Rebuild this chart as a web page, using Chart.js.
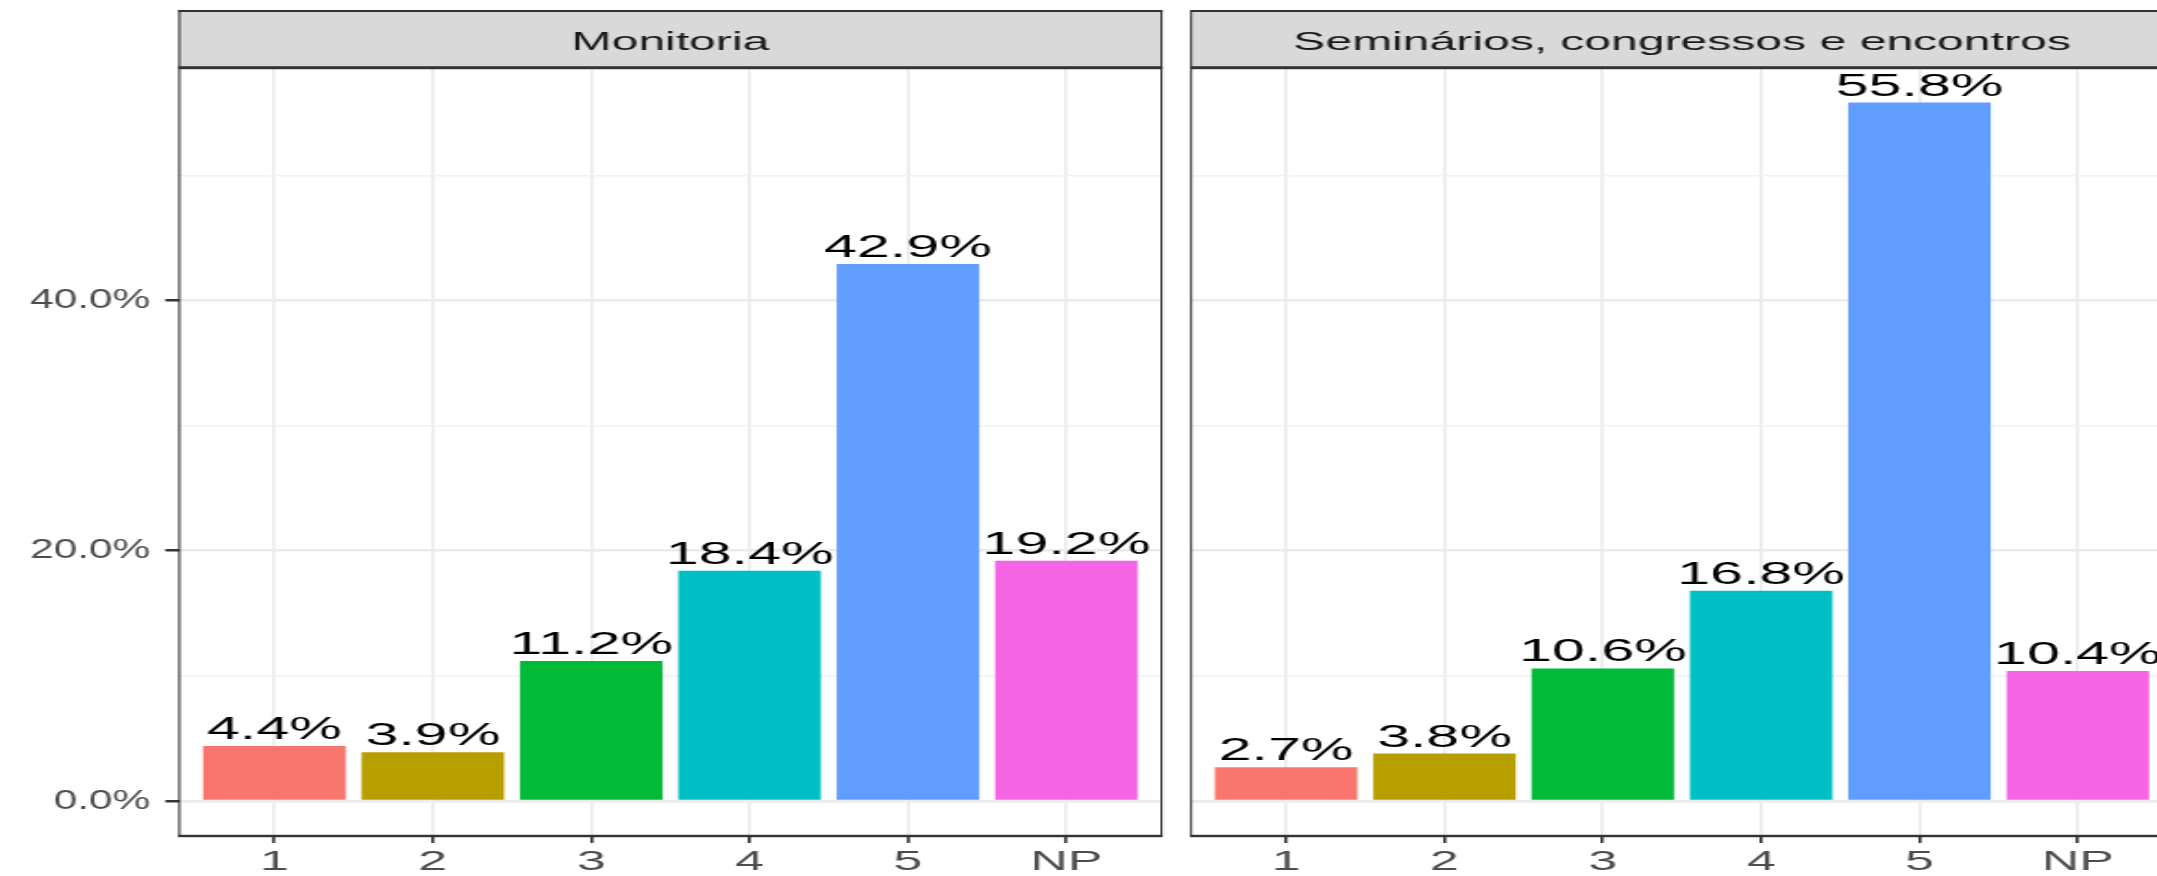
<!DOCTYPE html>
<html>
<head>
<meta charset="utf-8">
<script src="https://cdn.jsdelivr.net/npm/chart.js@4"></script>
<style>
  html, body { margin: 0; padding: 0; background: #fff; overflow: hidden; width: 2157px; height: 876px; }
  canvas { position: absolute; top: 0; }
</style>
</head>
<body>
<canvas id="chartMonitoria" width="636" height="876"></canvas>
<canvas id="chartSeminarios" width="543" height="876"></canvas>
<script>
// data
const categories = ['1', '2', '3', '4', '5', 'NP'];
const monitoriaValues = [4.4, 3.9, 11.2, 18.4, 42.9, 19.2];
const seminariosValues = [2.7, 3.8, 10.6, 16.8, 55.8, 10.4];
const barColors = ['#F8766D', '#B79F00', '#00BA38', '#00BFC4', '#619CFF', '#F564E3'];
const yGridTicks = [0, 10, 20, 30, 40, 50];
const yLabelTicks = [0, 20, 40];
const panelTitles = ['Monitoria', 'Seminários, congressos e encontros'];

// the picture is stretched sideways: canvases are drawn narrow and widened with css
const SX = 1.85;
const Y_LABEL_SQUEEZE = 0.82;   // y tick labels are less stretched than the rest
const H = 876;
const STRIP_TOP = 11;
const PANEL_TOP = 67.7;
const PANEL_BOTTOM = 836;
const FONT = '"Liberation Sans", Arial, sans-serif';

// shared y range, ggplot style 5% expansion
const allValues = monitoriaValues.concat(seminariosValues);
const yMax = Math.max(...allValues);
const yLo = -yMax * 0.05;
const yHi = yMax * 1.05;

const facetPlugin = {
    id: 'facet',
    afterDatasetsDraw(chart) {
        const ctx = chart.ctx;
        const meta = chart.getDatasetMeta(0);
        const data = chart.data.datasets[0].data;
        ctx.save();
        ctx.font = '32px ' + FONT;
        ctx.fillStyle = '#000';
        ctx.textAlign = 'center';
        ctx.textBaseline = 'alphabetic';
        meta.data.forEach((bar, i) => {
            ctx.fillText(data[i].y.toFixed(1) + '%', bar.x, bar.y - 7);
        });
        ctx.restore();
    },
    afterDraw(chart, args, opts) {
        const ctx = chart.ctx;
        const { left, right, top, bottom } = chart.chartArea;
        const vw = 2 / SX;
        ctx.save();
        // strip
        ctx.fillStyle = '#D9D9D9';
        ctx.fillRect(left, STRIP_TOP, right - left, top - STRIP_TOP);
        ctx.fillStyle = '#1A1A1A';
        ctx.font = '26px ' + FONT;
        ctx.textAlign = 'center';
        ctx.textBaseline = 'alphabetic';
        ctx.fillText(opts.title, (left + right) / 2, 50);
        // borders
        ctx.fillStyle = '#333333';
        ctx.fillRect(left - vw / 2, STRIP_TOP - 1, right - left + vw, 2);
        ctx.fillRect(left - vw / 2, top - 1.5, right - left + vw, 3);
        ctx.fillRect(left - vw / 2, bottom - 1.2, right - left + vw, 2.4);
        ctx.fillRect(left - vw / 2, STRIP_TOP - 1, vw, bottom - STRIP_TOP + 2);
        ctx.fillRect(right - vw / 2, STRIP_TOP - 1, vw, bottom - STRIP_TOP + 2);
        ctx.restore();
    }
};

// narrow the y tick labels around their right-aligned anchor
function squeezeYLabels(axis) {
    if (axis._squeezed) return;
    axis._squeezed = true;
    const draw = axis.drawLabels.bind(axis);
    axis.drawLabels = function (area) {
        const ctx = axis.ctx;
        const ax = axis.right - axis.options.grid.tickLength - axis.options.ticks.padding;
        ctx.save();
        ctx.translate(ax, 0);
        ctx.scale(Y_LABEL_SQUEEZE, 1);
        ctx.translate(-ax, 0);
        draw(area);
        ctx.restore();
    };
}

function makeChart(id, cssLeft, values, title, showY, areaLeft, areaRight) {
    const canvas = document.getElementById(id);
    const w = canvas.width;
    canvas.style.left = cssLeft + 'px';
    canvas.style.width = (w * SX) + 'px';
    canvas.style.height = H + 'px';

    const yAxisWidth = showY ? (areaLeft - cssLeft) / SX : 0;
    const padLeft = showY ? 0 : (areaLeft - cssLeft) / SX;
    const padRight = w - (areaRight - cssLeft) / SX;

    return new Chart(canvas.getContext('2d'), {
        type: 'bar',
        data: {
            datasets: [{
                data: values.map((v, i) => ({ x: i, y: v })),
                backgroundColor: barColors,
                borderWidth: 0,
                barPercentage: 0.9,
                categoryPercentage: 1
            }]
        },
        options: {
            responsive: false,
            animation: false,
            layout: { padding: { left: padLeft, right: padRight, top: PANEL_TOP, bottom: 0 } },
            plugins: {
                legend: { display: false },
                tooltip: { enabled: false },
                facet: { title: title }
            },
            scales: {
                x: {
                    type: 'linear',
                    offset: false,
                    min: -0.6,
                    max: categories.length - 0.4,
                    afterBuildTicks: axis => { axis.ticks = categories.map((c, i) => ({ value: i })); },
                    afterFit: axis => { axis.height = H - PANEL_BOTTOM; },
                    ticks: {
                        callback: v => categories[v],
                        color: '#4D4D4D',
                        font: { size: 28, family: FONT },
                        padding: 2,
                        maxRotation: 0,
                        autoSkip: false
                    },
                    grid: {
                        offset: false,
                        color: '#EBEBEB',
                        lineWidth: 3 / SX,
                        tickLength: 7,
                        tickColor: '#333333',
                        tickWidth: 3 / SX
                    },
                    border: { display: false }
                },
                y: {
                    min: yLo,
                    max: yHi,
                    afterBuildTicks: axis => { axis.ticks = yGridTicks.map(v => ({ value: v })); },
                    afterFit: axis => { axis.width = yAxisWidth; squeezeYLabels(axis); },
                    ticks: {
                        display: showY,
                        callback: v => yLabelTicks.includes(v) ? v.toFixed(1) + '%' : '',
                        color: '#4D4D4D',
                        font: { size: 28, family: FONT },
                        padding: 15 / SX,
                        autoSkip: false
                    },
                    grid: {
                        color: c => yLabelTicks.includes(c.tick.value) ? '#EBEBEB' : '#F2F2F2',
                        lineWidth: c => yLabelTicks.includes(c.tick.value) ? 2.5 : 1.4,
                        drawTicks: showY,
                        tickLength: 14 / SX,
                        tickColor: c => yLabelTicks.includes(c.tick.value) ? '#333333' : 'rgba(0,0,0,0)',
                        tickWidth: 2.5
                    },
                    border: { display: false }
                }
            }
        },
        plugins: [facetPlugin]
    });
}

const leftW = document.getElementById('chartMonitoria').width;
makeChart('chartMonitoria', 0, monitoriaValues, panelTitles[0], true, 179.3, 1161);
makeChart('chartSeminarios', leftW * SX, seminariosValues, panelTitles[1], false, 1190.7, 2173);
</script>
</body>
</html>
